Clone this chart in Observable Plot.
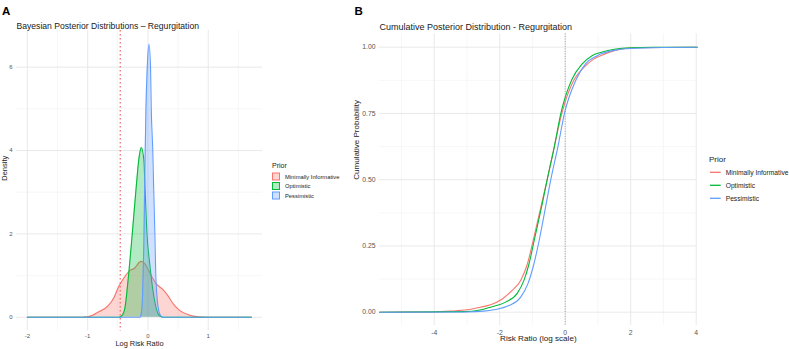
<!DOCTYPE html>
<html>
<head>
<meta charset="utf-8">
<script src="https://cdn.jsdelivr.net/npm/d3@7"></script>
<script src="https://cdn.jsdelivr.net/npm/@observablehq/plot@0.6"></script>
<style>
  body { margin: 0; background: #fff; }
  #fig { position: relative; width: 789px; height: 349px; overflow: hidden;
         font-family: "Liberation Sans", Arial, Helvetica, sans-serif; }
  #fig > svg { position: absolute; }
</style>
</head>
<body>
<div id="fig"></div>
<script>
// ---- categories and colours ----
const priors = ["Minimally Informative", "Optimistic", "Pessimistic"];
const priorColors = ["#F8766D", "#00BA38", "#619CFF"];

// ---- panel A: posterior densities of the log risk ratio ----
const densMinX = [-2.0, -1.1, -1.0, -0.9, -0.83, -0.75, -0.67, -0.56, -0.49, -0.39, -0.29, -0.22, -0.14, -0.11, -0.05, 0.0, 0.07, 0.14, 0.25, 0.33, 0.42, 0.53, 0.67, 0.83, 1.0, 1.715];
const densMinY = [0, 0, 0.01, 0.06, 0.12, 0.18, 0.26, 0.48, 0.72, 0.96, 1.13, 1.18, 1.32, 1.34, 1.28, 1.16, 0.96, 0.8, 0.66, 0.52, 0.32, 0.16, 0.06, 0.01, 0, 0];

const densOptX = [-2.0, -0.48, -0.43, -0.38, -0.33, -0.26, -0.19, -0.15, -0.11, -0.07, -0.045, -0.02, 0.03, 0.10, 0.17, 0.22, 0.25, 1.715];
const densOptY = [0, 0, 0.04, 0.24, 0.88, 2.0, 3.2, 3.8, 4.07, 3.8, 3.0, 2.1, 1.28, 0.48, 0.08, 0.01, 0, 0];

const densPesX = [-2.0, -0.13, -0.11, -0.09, -0.08, -0.065, -0.055, -0.045, -0.033, -0.011, 0.017, 0.043, 0.055, 0.08, 0.095, 0.115, 0.13, 0.15, 0.18, 0.22, 0.25, 1.715];
const densPesY = [0, 0, 0.1, 0.5, 1.0, 2.0, 3.1, 4.0, 5.0, 6.0, 6.55, 6.0, 5.0, 4.0, 3.1, 2.0, 1.0, 0.5, 0.15, 0.02, 0, 0];

const densRefLine = [-0.46];           // dotted reference on the log scale
const densXTicks = [-2, -1, 0, 1];
const densXMinor = [-1.5, -0.5, 0.5, 1.5];
const densYTicks = [0, 2, 4, 6];
const densYMinor = [1, 3, 5];

// ---- panel B: cumulative posterior ----
const cdfMinX = [-5.67, -4.1, -3.5, -3.0, -2.59, -2.28, -1.92, -1.62, -1.36, -1.16, -0.96, -0.72, -0.55, -0.33, -0.10, 0.27, 0.57, 0.87, 1.08, 1.5, 2.1, 4.03];
const cdfMinY = [0, 0.001, 0.004, 0.009, 0.019, 0.028, 0.05, 0.082, 0.12, 0.18, 0.28, 0.41, 0.50, 0.626, 0.752, 0.877, 0.924, 0.955, 0.968, 0.987, 0.998, 1.0];

const cdfOptX = [-5.67, -3.1, -2.6, -2.28, -1.82, -1.47, -1.26, -1.11, -0.93, -0.70, -0.55, -0.33, -0.13, 0.20, 0.52, 0.82, 1.08, 1.5, 2.0, 2.7, 4.03];
const cdfOptY = [0, 0.002, 0.008, 0.019, 0.038, 0.07, 0.12, 0.18, 0.28, 0.41, 0.50, 0.626, 0.752, 0.877, 0.937, 0.968, 0.98, 0.992, 0.998, 1.0, 1.0];

const cdfPesX = [-5.67, -3.0, -2.5, -2.18, -1.72, -1.36, -1.14, -0.96, -0.78, -0.58, -0.44, -0.22, -0.02, 0.33, 0.62, 0.98, 1.08, 1.5, 2.0, 3.0, 4.03];
const cdfPesY = [0, 0.001, 0.004, 0.009, 0.025, 0.057, 0.107, 0.18, 0.28, 0.41, 0.50, 0.626, 0.752, 0.877, 0.937, 0.968, 0.974, 0.988, 0.995, 0.999, 1.0];

const cdfRefLine = [0];
const cdfXTicks = [-4, -2, 0, 2, 4];
const cdfXMinor = [-5, -3, -1, 1, 3];
const cdfYTicks = [0, 0.25, 0.5, 0.75, 1];
const cdfYMinor = [0.125, 0.375, 0.625, 0.875];

// ---- assemble tidy rows ----
const toRows = (xs, ys) => xs.flatMap((arr, i) => arr.map((x, j) => ({prior: priors[i], x, y: ys[i][j]})));
const densRows = toRows([densMinX, densOptX, densPesX], [densMinY, densOptY, densPesY]);
const cdfRows = toRows([cdfMinX, cdfOptX, cdfPesX], [cdfMinY, cdfOptY, cdfPesY]);

const FONT = '"Liberation Sans", Arial, Helvetica, sans-serif';
const fig = document.getElementById("fig");
const colorScale = {domain: priors, range: priorColors};
const gridMajor = {stroke: "#e6e6e6", strokeWidth: 0.9};
const gridMinor = {stroke: "#f1f1f1", strokeWidth: 0.6};

// ---- panel A ----
const densLayers = priors.flatMap(p => {
  const rows = densRows.filter(d => d.prior === p);
  return [
    Plot.areaY(rows, {x: "x", y: "y", fill: "prior", fillOpacity: 0.3, curve: "monotone-x"}),
    Plot.lineY(rows, {x: "x", y: "y", stroke: "prior", strokeWidth: 1.1, curve: "monotone-x"})
  ];
});

const plotA = Plot.plot({
  width: 270, height: 349,
  marginLeft: 16, marginRight: 8, marginTop: 30, marginBottom: 18.5,
  style: {fontFamily: FONT, background: "transparent"},
  x: {domain: [-2.18, 1.90]},
  y: {domain: [-0.33, 6.88]},
  color: colorScale,
  marks: [
    Plot.ruleX(densXMinor, gridMinor),
    Plot.ruleY(densYMinor, gridMinor),
    Plot.ruleX(densXTicks, gridMajor),
    Plot.ruleY(densYTicks, gridMajor),
    ...densLayers,
    Plot.ruleX(densRefLine, {stroke: "#f05a5a", strokeWidth: 1.1, strokeDasharray: "1.6,2.4"}),
    Plot.axisX({ticks: densXTicks, tickSize: 0, tickPadding: 3, fontSize: 6, fill: "#555", tickFormat: d => String(d), label: null}),
    Plot.axisY({ticks: densYTicks, tickSize: 0, tickPadding: 4, fontSize: 6, fill: "#555", tickFormat: d => String(d), label: null}),
    Plot.text(["Log Risk Ratio"], {frameAnchor: "bottom", dy: 14.5, fontSize: 7.4, fill: "#1a1a1a"}),
    Plot.text(["Density"], {frameAnchor: "left", rotate: -90, dx: -12, fontSize: 7.5, fill: "#1a1a1a"}),
    Plot.text(["Bayesian Posterior Distributions – Regurgitation"], {frameAnchor: "top-left", textAnchor: "start", dy: -7.8, fontSize: 8.6, fill: "#1a1a1a"}),
    Plot.text(["A"], {frameAnchor: "top-left", textAnchor: "start", dx: -14.5, dy: -24, fontSize: 11.5, fontWeight: "bold", fill: "#000"})
  ]
});
plotA.style.left = "0px"; plotA.style.top = "0px";
fig.appendChild(plotA);

// ---- panel B ----
const cdfLayers = priors.map(p =>
  Plot.lineY(cdfRows.filter(d => d.prior === p), {x: "x", y: "y", stroke: "prior", strokeWidth: 1.1, curve: "monotone-x"})
);

const plotB = Plot.plot({
  width: 360, height: 349,
  marginLeft: 34, marginRight: 8.3, marginTop: 33.45, marginBottom: 24.05,
  style: {fontFamily: FONT, background: "transparent"},
  x: {domain: [-5.67, 4.03]},
  y: {domain: [-0.05, 1.05]},
  color: colorScale,
  marks: [
    Plot.ruleX(cdfXMinor, gridMinor),
    Plot.ruleY(cdfYMinor, gridMinor),
    Plot.ruleX(cdfXTicks, gridMajor),
    Plot.ruleY(cdfYTicks, gridMajor),
    Plot.ruleX(cdfRefLine, {stroke: "#8a8a8a", strokeWidth: 0.8, strokeDasharray: "1,1.5"}),
    ...cdfLayers,
    Plot.axisX({ticks: cdfXTicks, tickSize: 0, tickPadding: 4.3, fontSize: 6.8, fill: "#555", tickFormat: d => String(d), label: null}),
    Plot.axisY({ticks: cdfYTicks, tickSize: 0, tickPadding: 4, fontSize: 6.8, fill: "#555", tickFormat: d3.format(".2f"), label: null}),
    Plot.text(["Risk Ratio (log scale)"], {frameAnchor: "bottom", dy: 15.7, fontSize: 8.1, fill: "#1a1a1a"}),
    Plot.text(["Cumulative Probability"], {frameAnchor: "left", rotate: -90, dx: -23.3, fontSize: 8, fill: "#1a1a1a"}),
    Plot.text(["Cumulative Posterior Distribution - Regurgitation"], {frameAnchor: "top-left", textAnchor: "start", dy: -10, fontSize: 9, fill: "#1a1a1a"}),
    Plot.text(["B"], {frameAnchor: "top-left", textAnchor: "start", dx: -25, dy: -27.5, fontSize: 11.5, fontWeight: "bold", fill: "#000"})
  ]
});
plotB.style.left = "345px"; plotB.style.top = "0px";
fig.appendChild(plotB);

// ---- legends ----
const leg = d3.select(fig).append("svg")
  .attr("width", 789).attr("height", 349)
  .style("left", "0px").style("top", "0px")
  .style("font-family", FONT);

// legend for the densities: filled keys
const legA = leg.append("g").attr("transform", "translate(272,165)");
legA.append("text").text("Prior").attr("x", 0).attr("y", 0)
  .attr("dominant-baseline", "central").attr("font-size", 7).attr("fill", "#1a1a1a");
priors.forEach((p, i) => {
  const g = legA.append("g").attr("transform", `translate(0,${11.5 + i * 9.5})`);
  g.append("rect").attr("x", 0.5).attr("y", -3.5).attr("width", 7).attr("height", 7)
    .attr("fill", priorColors[i]).attr("fill-opacity", 0.3)
    .attr("stroke", priorColors[i]).attr("stroke-width", 1);
  g.append("text").text(p).attr("x", 13).attr("y", 0)
    .attr("dominant-baseline", "central").attr("font-size", 5.8).attr("fill", "#222");
});

// legend for the cumulative curves: line keys
const legB = leg.append("g").attr("transform", "translate(709,159)");
legB.append("text").text("Prior").attr("x", 0).attr("y", 0)
  .attr("dominant-baseline", "central").attr("font-size", 8).attr("fill", "#1a1a1a");
priors.forEach((p, i) => {
  const g = legB.append("g").attr("transform", `translate(0,${13.3 + i * 13})`);
  g.append("line").attr("x1", 1).attr("x2", 11.7).attr("y1", 0).attr("y2", 0)
    .attr("stroke", priorColors[i]).attr("stroke-width", 1.3);
  g.append("text").text(p).attr("x", 16.7).attr("y", 0)
    .attr("dominant-baseline", "central").attr("font-size", 6.7).attr("fill", "#222");
});
</script>
</body>
</html>
